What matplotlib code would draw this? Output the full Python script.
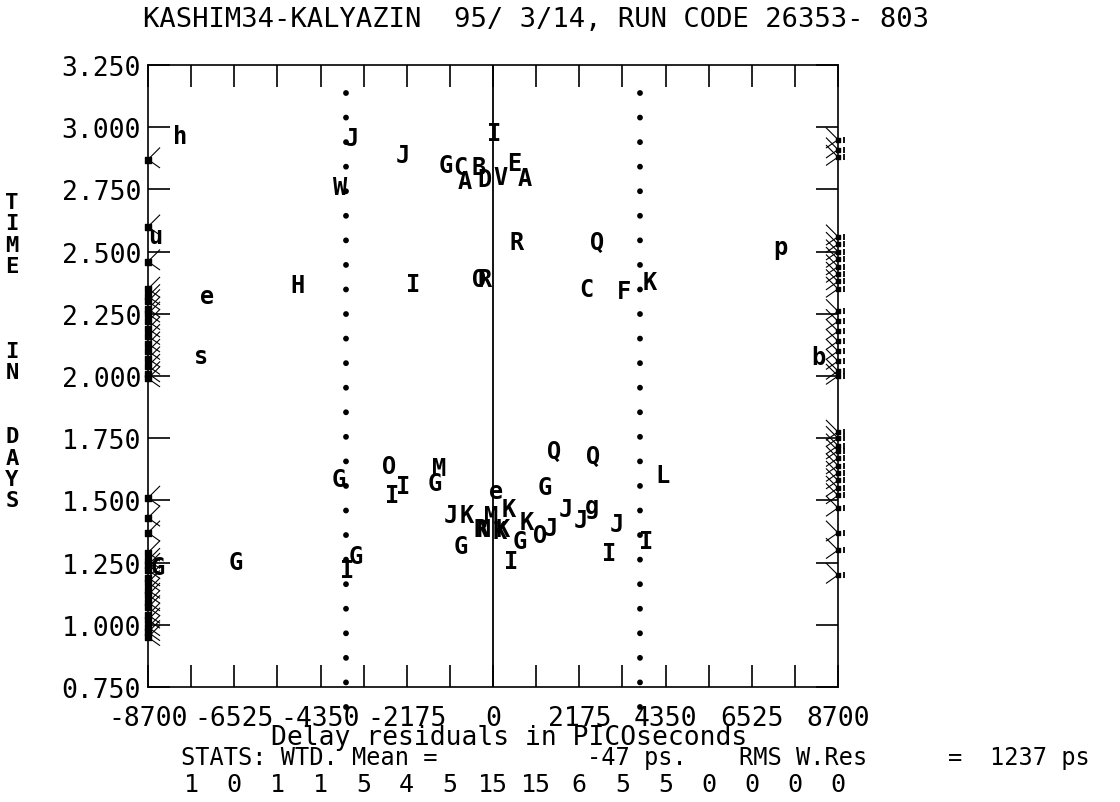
import numpy as np
import matplotlib.pyplot as plt
from matplotlib.path import Path
from matplotlib import transforms

# residuals (ps) and epochs (days) for each plotted baseline code
codes = ["h", "J", "J", "I", "G", "C", "B", "A", "D", "V", "E", "A", "W",
         "u", "R", "Q", "p", "H", "I", "O", "R", "C", "F", "K", "e", "s", "b",
         "Q", "Q", "O", "M", "L", "G", "I", "G", "G", "I", "e",
         "J", "K", "K", "M", "K", "N", "R", "K", "K", "G", "O", "J", "J", "J",
         "g", "J", "I", "G", "I", "I", "G", "G", "I", "G"]
resid = [-7886, -3562, -2264, 25, -1196, -814, -356, -712, -204, 178, 534, 789, -3867,
         -8522, 585, 2620, 7250, -4935, -2010, -356, -204, 2366, 3307, 3943, -7200, -7352, 8217,
         1552, 2519, -2620, -1348, 4274, -3892, -2264, -1475, 1297, -2544, 76,
         -1068, -661, 407, -51, 254, -229, -305, 178, 840, 687, 1196, 1450, 1832, 2213,
         2493, 3134, 2925, -814, 458, 3867, -6487, -3460, -3689, -8446]
tday = [2.965, 2.957, 2.888, 2.977, 2.848, 2.840, 2.840, 2.784, 2.792, 2.800, 2.856, 2.796, 2.760,
        2.563, 2.539, 2.539, 2.519, 2.366, 2.370, 2.390, 2.390, 2.350, 2.342, 2.378, 2.322, 2.080, 2.076,
        1.699, 1.679, 1.638, 1.630, 1.602, 1.586, 1.558, 1.570, 1.554, 1.522, 1.538,
        1.441, 1.441, 1.465, 1.437, 1.385, 1.385, 1.385, 1.377, 1.413, 1.337, 1.361, 1.389, 1.465, 1.421,
        1.478, 1.405, 1.290, 1.317, 1.257, 1.337, 1.253, 1.277, 1.221, 1.232]

# points off scale, drawn at the plot edges
left_clip_t = [2.87, 2.60, 2.46, 2.35, 2.32, 2.30, 2.27, 2.25, 2.22, 2.19, 2.16, 2.13,
               2.10, 2.07, 2.04, 2.01, 1.99, 1.51, 1.43, 1.37, 1.29, 1.26, 1.24, 1.22,
               1.19, 1.17, 1.14, 1.12, 1.09, 1.07, 1.04, 1.02, 0.99, 0.97, 0.95]
right_clip_t = [2.95, 2.91, 2.88, 2.56, 2.53, 2.50, 2.47, 2.44, 2.41, 2.38, 2.35,
                2.26, 2.22, 2.18, 2.14, 2.10, 2.06, 2.02, 2.00, 1.775, 1.75, 1.72,
                1.70, 1.67, 1.64, 1.61, 1.58, 1.55, 1.52, 1.47, 1.37, 1.30, 1.20]

hist_counts = [1, 0, 1, 1, 5, 4, 5, 15, 15, 6, 5, 5, 0, 0, 0, 0]
xlim = 8700
wtd_mean = -47
rms_wres = 1237

title = "KASHIM34-KALYAZIN  95/ 3/14, RUN CODE 26353- 803"
mono = "DejaVu Sans Mono"

fig = plt.figure(figsize=(11.2, 8.03), dpi=100)
ax = fig.add_axes([148 / 1120, 115 / 803, 690 / 1120, 622 / 803])
ax.set_xlim(-xlim, xlim)
ax.set_ylim(0.75, 3.25)

xt = np.linspace(-xlim, xlim, 9)
ax.set_xticks(xt)
ax.set_xticklabels([str(int(v)) for v in xt], family=mono, fontsize=19)
ax.set_xticks(np.linspace(-xlim, xlim, 17), minor=True)
yt = np.arange(0.75, 3.26, 0.25)
ax.set_yticks(yt)
ax.set_yticklabels([f"{v:.3f}" for v in yt], family=mono, fontsize=19)
ax.tick_params(which="both", direction="in", length=16, width=1.2,
               top=True, right=True, color="black")
ax.tick_params(axis="x", pad=13)
ax.tick_params(axis="y", pad=5)
for s in ax.spines.values():
    s.set_linewidth(1.2)

ax.axvline(0, color="black", lw=1.3)

# +/- 3 sigma guides
for xv in (-3 * rms_wres, 3 * rms_wres):
    ax.plot([xv, xv], [0.67, 3.142], color="black", lw=4.2,
            ls=(0, (0.01, 4.2)), dash_capstyle="round", clip_on=False)

for c, x, y in zip(codes, resid, tday):
    ax.text(x, y, c, family=mono, fontweight="bold", fontsize=17,
            ha="center", va="center")

# edge carets for clipped residuals
caret_l = Path([(1, 1), (0, 0), (1, -0.7)], [Path.MOVETO, Path.LINETO, Path.LINETO])
caret_r = Path([(-1, 1), (0, 0), (-1, -0.7)], [Path.MOVETO, Path.LINETO, Path.LINETO])
ax.scatter(np.full(len(left_clip_t), -xlim), left_clip_t, marker=caret_l, s=300,
           facecolors="none", edgecolors="black", linewidths=0.8, clip_on=False)
ax.scatter(np.full(len(left_clip_t), -xlim), left_clip_t, marker="s", s=14,
           color="black", clip_on=False)
ax.scatter(np.full(len(right_clip_t), xlim), right_clip_t, marker=caret_r, s=300,
           facecolors="none", edgecolors="black", linewidths=0.8, clip_on=False)
ax.scatter(np.full(len(right_clip_t), xlim), right_clip_t, marker="s", s=8,
           color="black", clip_on=False)
outside = transforms.offset_copy(ax.transData, fig=fig, x=6, y=0, units="dots")
ax.scatter(np.full(len(right_clip_t), xlim), right_clip_t, marker="|", s=22,
           color="black", linewidths=1.3, clip_on=False, transform=outside)

ax.set_xlabel("Delay residuals in PICOseconds", family=mono, fontsize=19)
ax.xaxis.set_label_coords((509 - 148) / 690, -0.060)

fig.text(143 / 1120, 1 - 20 / 803, title, family=mono, fontsize=19.5,
         ha="left", va="center")

# stats line
stats_y = 1 - 758 / 803
fig.text(181 / 1120, stats_y, "STATS: WTD. Mean =", family=mono, fontsize=17, va="center")
fig.text(587 / 1120, stats_y, f"{wtd_mean} ps.", family=mono, fontsize=17, va="center")
fig.text(739 / 1120, stats_y, "RMS W.Res", family=mono, fontsize=17, va="center")
fig.text(948 / 1120, stats_y, "=", family=mono, fontsize=17, va="center")
fig.text(990 / 1120, stats_y, f"{rms_wres} ps", family=mono, fontsize=17, va="center")

# histogram counts per bin, written at each bin's right edge
bin_edges = np.linspace(-xlim, xlim, len(hist_counts) + 1)
cnt_tr = transforms.blended_transform_factory(ax.transData, fig.transFigure)
for xe, n in zip(bin_edges[1:], hist_counts):
    ax.text(xe, 1 - 785 / 803, str(n), family=mono, fontsize=18,
            ha="center", va="center", transform=cnt_tr)

# vertical axis title, one character per row
ylab = "TIME    IN   DAYS"
slots = [0, 1, 2, 3, 7, 8, 11, 12, 13, 14]
chars = [ch for ch in ylab if ch != " "]
for k, ch in zip(slots, chars):
    fig.text(12 / 1120, 1 - (203 + 21.3 * k) / 803, ch, family=mono,
             fontweight="bold", fontsize=16, ha="center", va="center")

fig.savefig("out.png", dpi=100)
